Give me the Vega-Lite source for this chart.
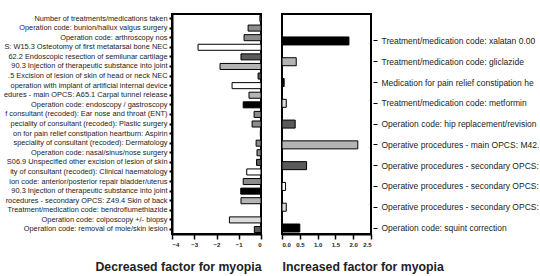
{
  "$schema": "https://vega.github.io/schema/vega-lite/v6.json",
  "padding": {"top": 13, "left": 2, "right": 0, "bottom": 0},
  "background": "white",
  "spacing": 17,
  "config": {
    "font": "Liberation Sans",
    "view": {"stroke": "#000", "strokeWidth": 2},
    "axis": {"domainColor": "#000", "domainWidth": 2, "tickColor": "#000", "tickWidth": 1.5, "labelColor": "#222", "titleColor": "#222", "grid": false}
  },
  "hconcat": [
    {
      "width": 89,
      "height": 220,
      "data": {"values": [
        {"factor": "Number of treatments/medications taken", "value": -0.05, "shade": "mid"},
        {"factor": "Operation code: bunion/hallux valgus surgery", "value": -0.58, "shade": "mid"},
        {"factor": "Operation code: arthroscopy nos", "value": -0.76, "shade": "mid"},
        {"factor": "S: W15.3 Osteotomy of first metatarsal bone NEC", "value": -2.83, "shade": "white"},
        {"factor": "62.2 Endoscopic resection of semilunar cartilage", "value": -0.9, "shade": "dark"},
        {"factor": "90.3 Injection of therapeutic substance into joint|a", "value": -1.84, "shade": "light"},
        {"factor": ".5 Excision of lesion of skin of head or neck NEC", "value": -0.13, "shade": "dark"},
        {"factor": "operation with implant of artificial internal device", "value": -1.3, "shade": "white"},
        {"factor": "edures - main OPCS: A65.1 Carpal tunnel release", "value": -0.54, "shade": "light"},
        {"factor": "Operation code: endoscopy / gastroscopy", "value": -0.8, "shade": "black"},
        {"factor": "f consultant (recoded): Ear nose and throat (ENT)", "value": -0.31, "shade": "mid"},
        {"factor": "peciality of consultant (recoded): Plastic surgery", "value": -0.4, "shade": "mid"},
        {"factor": "on for pain relief constipation heartburn: Aspirin", "value": -0.03, "shade": "mid"},
        {"factor": "speciality of consultant (recoded): Dermatology", "value": -0.22, "shade": "mid"},
        {"factor": "Operation code: nasal/sinus/nose surgery", "value": -0.18, "shade": "mid"},
        {"factor": "S06.9 Unspecified other excision of lesion of skin", "value": -0.2, "shade": "dark"},
        {"factor": "ity of consultant (recoded): Clinical haematology", "value": -0.64, "shade": "white"},
        {"factor": "ion code: anterior/posterior repair bladder/uterus", "value": -0.8, "shade": "mid"},
        {"factor": "90.3 Injection of therapeutic substance into joint|b", "value": -0.91, "shade": "black"},
        {"factor": "rocedures - secondary OPCS: Z49.4 Skin of back", "value": -0.9, "shade": "light"},
        {"factor": "Treatment/medication code: bendroflumethiazide", "value": 0, "shade": "mid"},
        {"factor": "Operation code: colposcopy +/- biopsy", "value": -1.42, "shade": "pale"},
        {"factor": "Operation code: removal of mole/skin lesion", "value": -0.3, "shade": "dark"}
      ]},
      "mark": {"type": "bar", "stroke": "#000", "strokeWidth": 1},
      "encoding": {
        "y": {"field": "factor", "type": "nominal", "sort": null,
              "scale": {"paddingInner": 0.37, "paddingOuter": 0.155},
              "axis": {"title": null, "labelFontSize": 7.4, "labelPadding": 2, "tickSize": 3, "tickWidth": 2, "labelLimit": 220, "labelExpr": "split(datum.label, '|')[0]"}},
        "x": {"field": "value", "type": "quantitative",
              "scale": {"domain": [-4, 0], "nice": false},
              "axis": {"values": [-4, -3, -2, -1, 0], "title": "Decreased factor for myopia", "titleAnchor": "end", "titleFontSize": 12.3, "titleFontWeight": "bold", "titlePadding": 13, "labelFontSize": 6, "labelFontWeight": "bold", "tickSize": 5}},
        "fill": {"field": "shade", "type": "nominal",
                 "scale": {"domain": ["white", "pale", "light", "mid", "dark", "black"], "range": ["#ffffff", "#dcdcdc", "#b4b4b4", "#8c8c8c", "#5a5a5a", "#000000"]},
                 "legend": null}
      }
    },
    {
      "width": 89,
      "height": 220,
      "data": {"values": [
        {"factor": "Treatment/medication code: xalatan 0.00", "value": 1.88, "shade": "black"},
        {"factor": "Treatment/medication code: gliclazide", "value": 0.4, "shade": "light"},
        {"factor": "Medication for pain relief constipation he", "value": 0.06, "shade": "black"},
        {"factor": "Treatment/medication code: metformin", "value": 0.12, "shade": "pale"},
        {"factor": "Operation code: hip replacement/revision", "value": 0.37, "shade": "dark"},
        {"factor": "Operative procedures - main OPCS: M42.", "value": 2.13, "shade": "light"},
        {"factor": "Operative procedures - secondary OPCS:|1", "value": 0.69, "shade": "dark"},
        {"factor": "Operative procedures - secondary OPCS:|2", "value": 0.1, "shade": "white"},
        {"factor": "Operative procedures - secondary OPCS:|3", "value": 0.12, "shade": "pale"},
        {"factor": "Operation code: squint correction", "value": 0.5, "shade": "black"}
      ]},
      "mark": {"type": "bar", "stroke": "#000", "strokeWidth": 1},
      "encoding": {
        "y": {"field": "factor", "type": "nominal", "sort": null,
              "scale": {"paddingInner": 0.615, "paddingOuter": 0.6, "align": 0.92},
              "axis": {"orient": "right", "title": null, "domain": false, "offset": 2, "labelFontSize": 8.5, "labelPadding": 4, "tickSize": 4, "tickWidth": 1, "labelLimit": 260, "labelExpr": "split(datum.label, '|')[0]"}},
        "x": {"field": "value", "type": "quantitative",
              "scale": {"domain": [0, 2.5], "nice": false},
              "axis": {"values": [0, 0.5, 1, 1.5, 2, 2.5], "format": ".1f", "title": "Increased factor for myopia", "titleAnchor": "start", "titleFontSize": 12.3, "titleFontWeight": "bold", "titlePadding": 13, "labelFontSize": 6, "labelFontWeight": "bold", "tickSize": 5}},
        "fill": {"field": "shade", "type": "nominal",
                 "scale": {"domain": ["white", "pale", "light", "mid", "dark", "black"], "range": ["#ffffff", "#dcdcdc", "#b4b4b4", "#8c8c8c", "#5a5a5a", "#000000"]},
                 "legend": null}
      }
    }
  ]
}
